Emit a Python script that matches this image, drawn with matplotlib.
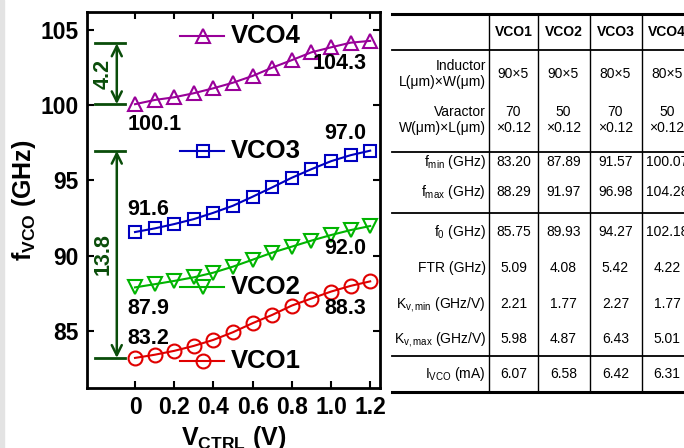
import matplotlib
matplotlib.use("Agg")
import matplotlib.pyplot as plt
from matplotlib.patches import Rectangle

plt.rcParams['font.family'] = ['Liberation Sans', 'DejaVu Sans']
plt.rcParams['mathtext.fontset'] = 'custom'
plt.rcParams['mathtext.rm'] = 'Liberation Sans'
plt.rcParams['mathtext.it'] = 'Liberation Sans:italic'
plt.rcParams['mathtext.bf'] = 'Liberation Sans:bold'

# datos de las curvas
vctrl = [0, 0.1, 0.2, 0.3, 0.4, 0.5, 0.6, 0.7, 0.8, 0.9, 1.0, 1.1, 1.2]
vco1 = [83.20, 83.41, 83.67, 84.00, 84.40, 84.91, 85.51, 86.06, 86.68, 87.15, 87.61, 87.99, 88.29]
vco2 = [87.89, 88.10, 88.32, 88.56, 88.87, 89.27, 89.73, 90.20, 90.60, 91.00, 91.37, 91.70, 91.97]
vco3 = [91.57, 91.81, 92.10, 92.43, 92.85, 93.32, 93.92, 94.54, 95.18, 95.75, 96.28, 96.68, 96.98]
vco4 = [100.07, 100.35, 100.53, 100.80, 101.13, 101.50, 101.95, 102.50, 103.00, 103.52, 103.85, 104.16, 104.28]
xticks = [0, 0.2, 0.4, 0.6, 0.8, 1.0, 1.2]
xticklabels = ["0", "0.2", "0.4", "0.6", "0.8", "1.0", "1.2"]
yticks = [85, 90, 95, 100, 105]

# datos de la tabla
col_names = ["VCO1", "VCO2", "VCO3", "VCO4"]
row_names = [r"f$_{\rm min}$ (GHz)", r"f$_{\rm max}$ (GHz)", r"f$_0$ (GHz)", "FTR (GHz)",
             r"K$_{\rm v,min}$ (GHz/V)", r"K$_{\rm v,max}$ (GHz/V)", r"I$_{\rm VCO}$ (mA)"]
inductor = ["90×5", "90×5", "80×5", "80×5"]
varactor_w = ["70", "50", "70", "50"]
fmin = ["83.20", "87.89", "91.57", "100.07"]
fmax = ["88.29", "91.97", "96.98", "104.28"]
f0 = ["85.75", "89.93", "94.27", "102.18"]
ftr = ["5.09", "4.08", "5.42", "4.22"]
kvmin = ["2.21", "1.77", "2.27", "1.77"]
kvmax = ["5.98", "4.87", "6.43", "5.01"]
ivco = ["6.07", "6.58", "6.42", "6.31"]

fig = plt.figure(figsize=(6.84, 4.48), dpi=100)

# franja gris a la izquierda
fig.patches.append(Rectangle((0, 0), 4 / 684, 1, transform=fig.transFigure,
                             color="#e3e3e3", zorder=0))

ax = fig.add_axes([87 / 684, 60 / 448, 293 / 684, 376 / 448])

series = [
    (vco1, "#e00000", "o", 10, "VCO1", 82.98),
    (vco2, "#00b400", "v", 10, "VCO2", 87.92),
    (vco3, "#0000c0", "s", 8, "VCO3", 96.99),
    (vco4, "#990099", "^", 10, "VCO4", 104.6),
]
for ys, c, m, ms, name, ly in series:
    ax.plot(vctrl, ys, color=c, marker=m, markersize=ms, markerfacecolor="none",
            markeredgewidth=1.5, linewidth=1.5, clip_on=False)
    # muestra tipo leyenda junto a cada curva
    ax.plot([0.23, 0.455], [ly, ly], color=c, linewidth=1.5)
    ax.plot([0.345], [ly], color=c, marker=m, markersize=ms, markerfacecolor="none",
            markeredgewidth=1.5)
    ax.text(0.49, ly, name, fontsize=18.5, fontweight="bold", va="center", ha="left")

# etiquetas de valores
lab = dict(fontsize=15.5, fontweight="bold", ha="left", va="center")
ax.text(-0.04, 98.7, "100.1", **lab)
ax.text(0.905, 102.8, "104.3", **lab)
ax.text(0.965, 98.15, "97.0", **lab)
ax.text(-0.04, 93.05, "91.6", **lab)
ax.text(0.965, 90.5, "92.0", **lab)
ax.text(-0.04, 86.47, "87.9", **lab)
ax.text(0.965, 86.47, "88.3", **lab)
ax.text(-0.04, 84.48, "83.2", **lab)

# flechas de rango
dg = "#0a4d0a"
for lo, hi, txt in [(100.07, 104.11, "4.2"), (83.2, 96.97, "13.8")]:
    for yy in (lo, hi):
        ax.plot([-0.205, -0.05], [yy, yy], color=dg, linewidth=2, clip_on=False)
    ax.annotate("", xy=(-0.093, lo), xytext=(-0.093, hi),
                arrowprops=dict(arrowstyle="<->", color=dg, lw=1.8,
                                shrinkA=0, shrinkB=0, mutation_scale=18))
    ax.text(-0.163, (lo + hi) / 2, txt, color=dg, fontsize=15.5, fontweight="bold",
            rotation=90, ha="center", va="center")

ax.set_xlim(-0.245, 1.25)
ax.set_ylim(81.2, 106.2)
ax.set_xticks(xticks)
ax.set_xticklabels(xticklabels)
ax.set_yticks(yticks)
ax.tick_params(direction="in", top=True, right=True, length=5, width=1.5,
               labelsize=16.5, pad=6)
for t in ax.get_xticklabels() + ax.get_yticklabels():
    t.set_fontweight("bold")
for s in ax.spines.values():
    s.set_linewidth(2)
ax.set_xlabel(r"V$_{\mathbf{CTRL}}$ (V)", fontsize=18, fontweight="bold", labelpad=3)
ax.set_ylabel(r"f$_{\mathbf{VCO}}$ (GHz)", fontsize=18, fontweight="bold", labelpad=2)

# tabla en coordenadas de pixel
tb = fig.add_axes([0, 0, 1, 1])
tb.set_xlim(0, 684)
tb.set_ylim(448, 0)
tb.axis("off")

x0, x1 = 392, 700
vlines = [489, 538, 589.5, 642]
col_x = [513.5, 563.5, 615.5, 667]
label_x = 486

tb.plot([x0, x1], [14, 14], color="k", lw=2.2)
tb.plot([x0, x1], [392, 392], color="k", lw=2.2)
for yy in [50, 151.7, 213.3, 356.5]:
    tb.plot([x0, x1], [yy, yy], color="k", lw=1.3)
for xx in vlines:
    tb.plot([xx, xx], [15, 391], color="k", lw=1)

fs = 10
for cx, name in zip(col_x, col_names):
    tb.text(cx, 32, name, fontsize=fs, fontweight="bold", ha="center", va="center")

tb.text(label_x, 65.7, "Inductor", fontsize=fs, ha="right", va="center")
tb.text(label_x, 82.3, "L(μm)×W(μm)", fontsize=fs, ha="right", va="center")
tb.text(label_x, 112.3, "Varactor", fontsize=fs, ha="right", va="center")
tb.text(label_x, 128.3, "W(μm)×L(μm)", fontsize=fs, ha="right", va="center")
for cx, a, w in zip(col_x, inductor, varactor_w):
    tb.text(cx, 74, a, fontsize=fs, ha="center", va="center")
    tb.text(cx, 112.3, w, fontsize=fs, ha="center", va="center")
    tb.text(cx, 128.3, "×0.12", fontsize=fs, ha="center", va="center")

row_y = [161.7, 191.7, 232.3, 268.3, 304, 339.3, 374]
rows = [fmin, fmax, f0, ftr, kvmin, kvmax, ivco]
for ry, rn, vals in zip(row_y, row_names, rows):
    tb.text(label_x, ry, rn, fontsize=fs, ha="right", va="center")
    for cx, v in zip(col_x, vals):
        tb.text(cx, ry, v, fontsize=fs, ha="center", va="center")

fig.savefig("out.png", dpi=100)
